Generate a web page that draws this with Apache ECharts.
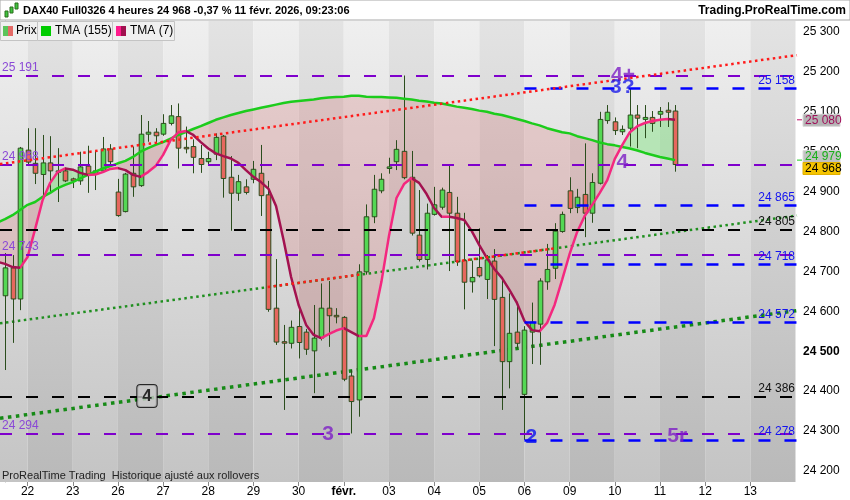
<!DOCTYPE html>
<html><head><meta charset="utf-8">
<script src="https://cdn.jsdelivr.net/npm/echarts@6/dist/echarts.min.js"></script>
<style>html,body{margin:0;padding:0;background:#fff}#c{width:850px;height:500px}</style>
</head><body><div id="c"></div>
<script>
// ---------- DATA (4-hour bars, bar index 0 = first visible bar) ----------
const opens  = [24639,24709,24631,25004,24971,24943,24972,24950,24952,24932,24927,24964,24944,24952,25007,24899,24850,24946,24915,25044,25049,25044,25071,25088,25011,25013,24983,24975,24994,25039,24936,24896,24912,24931,24946,24892,24608,24524,24520,24562,24548,24501,24533,24608,24590,24585,24438,24378,24699,24837,24902,24958,24975,25001,24936,24791,24730,24843,24861,24898,24846,24727,24674,24710,24680,24726,24635,24474,24548,24392,24548,24568,24674,24708,24800,24902,24860,24893,24846,24921,25078,25075,25050,25059,25092,25081,25086,25094,25104,25102];
const highs  = [24746,24741,25012,25059,25059,25042,25039,25009,24960,24935,25000,25015,25002,25037,25019,24932,24947,25013,25092,25077,25059,25094,25117,25121,25063,25031,25017,25000,25046,25042,24989,24942,24931,24977,25017,24927,24731,24566,24577,24606,24556,24616,24670,24676,24608,24588,24453,24718,24868,24942,24946,24985,25029,25191,25002,24904,24870,24912,24910,24965,24887,24847,24727,24808,24741,24756,24683,24645,24624,24563,24622,24683,24769,24821,24850,24936,24907,25021,24946,25100,25117,25086,25066,25158,25117,25117,25102,25112,25124,25117];
const lows   = [24453,24521,24603,24967,24919,24884,24899,24874,24924,24909,24917,24897,24904,24947,24967,24837,24848,24887,24912,25025,25017,25040,25066,24958,24996,24946,24947,24965,24979,24885,24802,24877,24893,24921,24839,24599,24516,24353,24507,24482,24491,24395,24527,24511,24570,24425,24294,24336,24692,24821,24896,24945,24954,24931,24790,24725,24705,24840,24855,24701,24714,24605,24647,24685,24631,24513,24353,24407,24507,24278,24468,24466,24654,24681,24797,24846,24846,24786,24822,24918,25070,25042,25042,25013,25009,25034,25050,25062,25062,24950];
const closes = [24709,24631,25009,24974,24946,24972,24952,24952,24927,24927,24962,24942,24952,25007,24975,24840,24944,24912,25044,25049,25040,25071,25090,25009,25009,24986,24968,24983,25036,24933,24896,24925,24898,24956,24890,24605,24523,24521,24560,24522,24505,24533,24608,24589,24588,24430,24374,24699,24837,24906,24931,24962,25006,24935,24796,24730,24846,24867,24904,24846,24725,24673,24685,24689,24729,24630,24474,24545,24520,24553,24573,24676,24705,24801,24843,24858,24886,24846,24923,25081,25099,25053,25056,25092,25084,25086,25071,25101,25099,24968];
// moving averages, starting at bar index -1 (left edge)
const tmaStart = -1;
const tma155 = [24823,24831,24841,24854,24867,24874,24887,24897,24909,24917,24924,24933,24942,24950,24958,24964,24971,24977,24987,25000,25009,25017,25024,25033,25042,25049,25057,25064,25072,25080,25086,25092,25097,25102,25106,25110,25114,25118,25122,25125,25127,25129,25131,25134,25136,25137,25138,25140,25140,25138,25137,25137,25136,25135,25133,25131,25128,25126,25123,25121,25117,25113,25110,25107,25103,25100,25095,25092,25087,25082,25077,25071,25066,25059,25054,25049,25046,25039,25034,25029,25023,25019,25016,25012,25008,25003,24997,24992,24987,24983,24979];
const tma7   = [24724,24719,24711,24709,24736,24806,24879,24922,24949,24958,24955,24947,24942,24943,24949,24957,24959,24954,24942,24937,24949,24964,24992,25029,25048,25052,25042,25024,25008,24996,24989,24983,24972,24954,24937,24924,24907,24864,24779,24686,24616,24566,24541,24533,24543,24552,24558,24548,24538,24538,24583,24674,24789,24884,24919,24934,24922,24894,24859,24837,24837,24834,24829,24801,24766,24734,24706,24684,24654,24621,24576,24553,24550,24571,24616,24679,24744,24799,24839,24867,24897,24929,24982,25017,25049,25064,25072,25077,25080,25082,25080];
const dayLabels = ['22','23','26','27','28','29','30','févr.','03','04','05','06','09','10','11','12','13'];
const barsPerDay = 6, firstDayBar = 3;
const priceTicks = [24200,24300,24400,24500,24600,24700,24800,24900,25000,25100,25200,25300];
const purpleLevels = [25191,24968,24743,24294];
const blueLevels   = [25158,24865,24718,24572,24278];
const blueFromBar  = 69;
const blackLevels  = [24805,24386];
const trendRedUpper   = [[-0.664,24969],[105.2,25242]];
const trendGreenThin  = [[-0.664,24570],[105.2,24840]];
const trendRedLowerA  = [[34.9,24661],[47.4,24693]];
const trendRedLowerB  = [[59.9,24725],[73.1,24758]];
const trendGreenThick = [[-0.664,24332],[105.2,24602]];
const notes = [
  {t:'4',  x:18.86, y:24388, c:'#000', box:true},
  {t:'3',  x:42.9,  y:24293, c:'#7d1fc6'},
  {t:'2',  x:69.9,  y:24285, c:'#0a14f0'},
  {t:'5r', x:89.3,  y:24288, c:'#7d1fc6'},
  {t:'4+', x:82.1,  y:25192, c:'#7d1fc6'},
  {t:'3?', x:82.0,  y:25162, c:'#1a1ae8'},
  {t:'4',  x:82.0,  y:24974, c:'#7d1fc6'}
];
const lastTma7 = 25080, lastTma155 = 24979, lastPrice = 24968;
// ---------------------------------------------------------------------

const xMin = -0.664, xMax = 105.2;
const FONT = '"Liberation Sans", Arial, sans-serif';
const fmt = v => String(Math.round(v)).replace(/(\d+)(\d{3})$/, '$1 $2');

const chart = echarts.init(document.getElementById('c'), null, {renderer:'canvas'});

// background stripes per trading day
const grad = (a,b) => new echarts.graphic.LinearGradient(0,0,0,1,[{offset:0,color:a},{offset:1,color:b}]);
const stripes = [];
for (let k = -1; k < dayLabels.length; k++) {
  const a = firstDayBar + barsPerDay*k, b = a + barsPerDay;
  const light = (k % 2 !== 0);
  stripes.push([{xAxis: Math.max(a, xMin), itemStyle:{color: light ? grad('#efefef','#c4c4c4') : grad('#e3e3e3','#b9b9b9')}}, {xAxis: Math.min(b, xMax)}]);
}

// fill regions between TMA7 and TMA155
const regions = [];
(function(){
  let cur = null;
  const push = (s, x, a, b) => {
    if (!cur || cur.s !== s) {
      if (cur) { cur.top.push([x,a]); cur.bot.push([x,b]); regions.push(cur); }
      cur = {s, top:[], bot:[]};
    }
    cur.top.push([x,a]); cur.bot.push([x,b]);
  };
  for (let j = 0; j < tma7.length; j++) {
    const x = tmaStart + j, d = tma7[j] - tma155[j];
    if (j > 0) {
      const dp = tma7[j-1] - tma155[j-1];
      if (dp * d < 0) {
        const t = dp / (dp - d);
        const xm = x - 1 + t, ym = tma7[j-1] + (tma7[j]-tma7[j-1])*t;
        cur.top.push([xm,ym]); cur.bot.push([xm,ym]); regions.push(cur);
        cur = {s: d > 0 ? 1 : -1, top:[[xm,ym]], bot:[[xm,ym]]};
      }
    }
    push(d >= 0 ? 1 : -1, x, tma7[j], tma155[j]);
  }
  regions.push(cur);
})();

const candleData = opens.map((o,i) => [i, o, closes[i], lows[i], highs[i]]);
const tma7Data = tma7.map((v,j) => [tmaStart + j, v]);
const tma155Data = tma155.map((v,j) => [tmaStart + j, v]);

const pieces = [];
for (let j = 0; j < tma7.length - 1; j++) {
  const x0 = tmaStart + j;
  const col = tma7[j+1] < tma7[j] ? '#a3124f' : '#f4287f';
  if (j === tma7.length - 2) pieces.push({gte:x0, lte:x0+1, color:col});
  else pieces.push({gte:x0, lt:x0+1, color:col});
}

const hLines = [];
purpleLevels.forEach(v => hLines.push({yAxis:v, lineStyle:{color:'#7f00cc', width:2, type:[12,14]},
  label:{show:true, position:'insideStartTop', formatter:fmt(v), color:'#8a48d6', fontSize:12, fontFamily:FONT, distance:[2,2]}}));
blackLevels.forEach(v => hLines.push({yAxis:v, lineStyle:{color:'#000', width:2, type:[12,14]},
  label:{show:true, position:'insideEndTop', formatter:fmt(v), color:'#111', fontSize:12, fontFamily:FONT, distance:[2,2]}}));
blueLevels.forEach(v => hLines.push([{coord:[blueFromBar, v], lineStyle:{color:'#0000ff', width:2.5, type:[12,14]},
  label:{show:true, position:'insideEndTop', formatter:fmt(v), color:'#1414f0', fontSize:12, fontFamily:FONT, distance:[2,2]}}, {coord:[xMax, v]}]));

const trendLine = (data, color, width, dash, z) => ({
  type:'line', data, showSymbol:false, silent:true, z, animation:false,
  lineStyle:{color, width, type:dash, cap:'butt'}
});

const option = {
  animation:false,
  grid:{left:0, right:53, top:21, bottom:18},
  xAxis:{type:'value', min:xMin, max:xMax,
    splitLine:{show:false}, axisLine:{show:false},
    axisTick:{show:true, customValues: dayLabels.map((_,k)=>firstDayBar+barsPerDay*k), length:4, lineStyle:{color:'#888'}},
    axisLabel:{customValues: dayLabels.map((_,k)=>firstDayBar+barsPerDay*k), margin:4, color:'#000', fontSize:12, fontFamily:FONT,
      formatter: v => { const s = dayLabels[Math.round((v-firstDayBar)/barsPerDay)]; return s === 'févr.' ? '{b|févr.}' : s; },
      rich:{b:{fontWeight:'bold', fontSize:12, fontFamily:FONT, color:'#000'}}}},
  yAxis:{type:'value', position:'right', min:24172.4, max:25327.6, scale:true,
    splitLine:{show:false}, axisLine:{show:true, lineStyle:{color:'#a8a8a8'}},
    axisTick:{show:true, customValues:priceTicks, length:4, lineStyle:{color:'#888'}},
    axisLabel:{customValues:priceTicks, margin:6, color:'#000', fontSize:12, fontFamily:FONT,
      formatter: v => v === 24500 ? '{b|' + fmt(v) + '}' : fmt(v),
      rich:{b:{fontWeight:'bold', fontSize:12, fontFamily:FONT, color:'#000'}}}},
  visualMap:[{type:'piecewise', show:false, dimension:0, seriesIndex:6, pieces, outOfRange:{color:'#f4287f'}}],
  series:[
    {type:'line', data:[[-50,24000]], silent:true, z:0, showSymbol:false,
      markArea:{silent:true, data:stripes}},
    {type:'custom', z:1, silent:true, data: regions.map(r => [r.top[0][0], r.top[0][1]]), encode:{x:0,y:1},
      renderItem:(params, api) => {
        const r = regions[params.dataIndex];
        const pts = r.top.map(p => api.coord(p)).concat(r.bot.slice().reverse().map(p => api.coord(p)));
        return {type:'polygon', shape:{points:pts}, style:{fill: r.s > 0 ? 'rgba(120,232,120,0.42)' : 'rgba(215,95,95,0.22)'}};
      }},
    trendLine(trendGreenThin, '#1f8f1f', 2.5, [2.5,3.5], 2),
    trendLine(trendGreenThick, '#168a16', 3.5, [3.5,4.5], 2),
    {type:'custom', z:3, silent:true, data:candleData, encode:{x:0, y:[1,2,3,4]},
      renderItem:(params, api) => {
        const x = api.value(0), o = api.value(1), c = api.value(2), l = api.value(3), h = api.value(4);
        const pO = api.coord([x,o]), pC = api.coord([x,c]), pL = api.coord([x,l]), pH = api.coord([x,h]);
        const w = 4.6;
        const cx = Math.round(pO[0]) + 0.5;
        const top = Math.min(pO[1],pC[1]), bot = Math.max(pO[1],pC[1]);
        return {type:'group', children:[
          {type:'line', shape:{x1:cx, y1:pH[1], x2:cx, y2:pL[1]}, style:{stroke:'#2b4d1d', lineWidth:1}},
          {type:'rect', shape:{x:cx - w/2, y:top, width:w, height:Math.max(bot-top,1.5)},
            style:{fill: c >= o ? '#54d854' : '#e6675e', stroke:'#2b4d1d', lineWidth:1}}
        ]};
      }},
    {type:'line', name:'TMA (155)', data:tma155Data, showSymbol:false, z:4, silent:true,
      lineStyle:{color:'#1ccc1c', width:2.5}},
    {type:'line', name:'TMA (7)', data:tma7Data, showSymbol:false, z:4, silent:true,
      lineStyle:{width:2.5}},
    {type:'line', data:trendRedUpper, showSymbol:false, z:5, silent:true,
      lineStyle:{color:'#ff1a1a', width:2.5, type:[2.5,3.5], cap:'butt'},
      markLine:{silent:true, symbol:['none','none'], animation:false, data:hLines}},
    trendLine(trendRedLowerA, '#ff1a1a', 2.5, [2.5,3.5], 5),
    trendLine(trendRedLowerB, '#ff1a1a', 2.5, [2.5,3.5], 5),
    {type:'scatter', z:6, silent:true, symbolSize:1, itemStyle:{color:'rgba(0,0,0,0)'},
      data: notes.map(n => ({value:[n.x, n.y],
        label:{show:true, position:'inside', formatter:n.t, color:n.c, fontWeight:'bold',
          fontSize: n.box ? 17 : 21, fontFamily:FONT,
          backgroundColor: n.box ? '#c8c8c8' : 'transparent', borderColor: n.box ? '#000' : 'transparent',
          borderWidth: n.box ? 1 : 0, borderRadius: n.box ? 3 : 0, padding: n.box ? [3,5,2,5] : 0}}))}
  ]
};
chart.setOption(option);

// header, legend, value boxes
const yPix = v => chart.convertToPixel({gridIndex:0}, [0, v])[1];
const rx = 797;
const box = (val, dy, fill, stroke, color) => {
  const y = yPix(val) + dy;
  return [
    {type:'rect', shape:{x:rx+6, y:y-6, width:37, height:12}, style:{fill, stroke, lineWidth:1}, z:100},
    {type:'text', x:rx+8, y:y, style:{text:fmt(val), fill:color, font:'12px '+FONT, textVerticalAlign:'middle'}, z:101}
  ];
};
const g = [
  {type:'rect', shape:{x:0, y:0, width:850, height:20}, style:{fill:'#ffffff', stroke:'#a8a8a8', lineWidth:1}, z:90},
  {type:'rect', shape:{x:5, y:11, width:3, height:6}, style:{fill:'#3ec43e', stroke:'#2b6d1d'}, z:91},
  {type:'rect', shape:{x:10, y:7, width:3, height:6}, style:{fill:'#3ec43e', stroke:'#2b6d1d'}, z:91},
  {type:'rect', shape:{x:15, y:3, width:3, height:6}, style:{fill:'#3ec43e', stroke:'#2b6d1d'}, z:91},
  {type:'text', x:23, y:11, style:{text:'DAX40 Full0326 4 heures 24 968 -0,37 % 11 févr. 2026, 09:23:06', fill:'#000', font:'bold 11px '+FONT, textVerticalAlign:'middle'}, z:91},
  {type:'text', x:846, y:11, style:{text:'Trading.ProRealTime.com', fill:'#000', font:'bold 12px '+FONT, textAlign:'right', textVerticalAlign:'middle'}, z:91},
  {type:'rect', shape:{x:0.5, y:21.5, width:37, height:19}, style:{fill:'#f0f0f0', stroke:'#c4c4c4'}, z:90},
  {type:'rect', shape:{x:37.5, y:21.5, width:75, height:19}, style:{fill:'#f0f0f0', stroke:'#c4c4c4'}, z:90},
  {type:'rect', shape:{x:112.5, y:21.5, width:62, height:19}, style:{fill:'#f0f0f0', stroke:'#c4c4c4'}, z:90},
  {type:'rect', shape:{x:3, y:26, width:5, height:10}, style:{fill:'#5ac45a'}, z:91},
  {type:'rect', shape:{x:8, y:26, width:5, height:10}, style:{fill:'#e46a66'}, z:91},
  {type:'text', x:16, y:31, style:{text:'Prix', fill:'#000', font:'12px '+FONT, textVerticalAlign:'middle'}, z:91},
  {type:'rect', shape:{x:41, y:26, width:10, height:10}, style:{fill:'#00cc00'}, z:91},
  {type:'text', x:55, y:31, style:{text:'TMA (155)', fill:'#000', font:'12px '+FONT, textVerticalAlign:'middle'}, z:91},
  {type:'rect', shape:{x:116, y:26, width:5, height:10}, style:{fill:'#ff1a8c'}, z:91},
  {type:'rect', shape:{x:121, y:26, width:5, height:10}, style:{fill:'#a0104f'}, z:91},
  {type:'text', x:130, y:31, style:{text:'TMA (7)', fill:'#000', font:'12px '+FONT, textVerticalAlign:'middle'}, z:91},
  {type:'text', x:2, y:476, style:{text:'ProRealTime Trading  Historique ajusté aux rollovers', fill:'#222', font:'11px '+FONT, textVerticalAlign:'middle'}, z:91},
  {type:'line', shape:{x1:rx, y1:yPix(lastTma7), x2:rx+5, y2:yPix(lastTma7)}, style:{stroke:'#c0106a', lineWidth:1}, z:99},
  {type:'line', shape:{x1:rx, y1:yPix(lastTma155), x2:rx+5, y2:yPix(lastTma155)}, style:{stroke:'#1ccc1c', lineWidth:1}, z:99}
].concat(box(lastTma7, 0.5, '#b4b4b4', '#d8d8d8', '#a0105a'))
 .concat(box(lastTma155, -3.5, '#c2c2c2', '#dcdcdc', '#18b018'))
 .concat(box(lastPrice, 4, '#f5c400', '#e0b000', '#000'));
chart.setOption({graphic: g});
</script></body></html>
